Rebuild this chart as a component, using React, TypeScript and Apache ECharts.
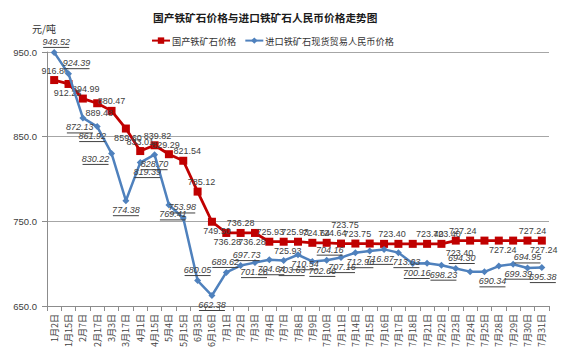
import React, { useEffect, useRef } from 'react';
import * as echarts from 'echarts';

const categories = [
  '1月2日', '1月15日', '2月7日', '2月17日', '3月3日', '3月17日', '4月1日', '4月15日',
  '5月4日', '5月15日', '6月3日', '6月16日', '7月1日', '7月2日', '7月3日', '7月4日',
  '7月7日', '7月8日', '7月9日', '7月10日', '7月11日', '7月14日', '7月15日', '7月16日',
  '7月17日', '7月18日', '7月21日', '7月22日', '7月23日', '7月24日', '7月25日', '7月28日',
  '7月29日', '7月30日', '7月31日',
];

const domesticPrice = [
  916.86, 912.25, 894.99, 889.48, 880.47, 859.6, 833.01, 839.82,
  829.29, 821.54, 785.12, 749.5, 736.28, 736.28, 736.28, 725.93,
  725.93, 725.93, 724.64, 724.64, 723.75, 723.75, 723.75, 723.4,
  723.4, 723.4, 723.4, 723.4, 727.24, 727.24, 727.24, 727.24,
  727.24, 727.24, 727.24,
];

const importPrice = [
  949.52, 924.39, 872.13, 861.92, 830.22, 774.38, 819.39, 828.7,
  769.41, 753.98, 680.05, 662.38, 689.62, 697.73, 701.26, 704.64,
  703.63, 710.54, 702.66, 704.16, 707.16, 712.96, 714.9, 716.87,
  713.03, 700.16, 700.5, 698.23, 694.3, 690.6, 690.34, 697.2,
  699.39, 694.95, 695.38,
];

const yMin = 650;
const yMax = 950;
const yStep = 100;

const seriesNames = ['国产铁矿石价格', '进口铁矿石现货贸易人民币价格'];

// label placement styles (t = above, b = below, n = not visible in the reference), with x / y nudges
type Place = [string, number, number];
const redLabelPlace: Place[] = [
  ['t', 1, 0], ['b', -1, 0], ['t', 3, 0], ['b', 2, 0], ['t', 0, 0], ['b', 2, 0], ['t', 0, 0], ['t', 3, 0],
  ['t', -3, 0], ['t', 4, 0], ['t', 4, 0], ['b', 5, 0], ['b', 1, 0], ['t', 0, 0], ['b', -3, 0], ['t', 1, 0],
  ['b', 4, 0], ['t', -3, 0], ['t', 4, 0], ['t', 6, 0], ['t', 4, -9], ['t', 2, 0], ['n', 0, 0], ['t', 8, 0],
  ['n', 0, 0], ['t', 17, 0], ['t', 20, 0], ['b', 18, 0], ['t', 7, 0], ['n', 0, 0], ['n', 0, 0], ['b', 4, 0],
  ['n', 0, 0], ['t', 5, 0], ['b', 2, 0],
];
const blueLabelPlace: Place[] = [
  ['t', 2, 0], ['t', 8, 0], ['b', -3, 0], ['b', -5, 0], ['b', -16, -4], ['b', 0, 0], ['b', 7, 0], ['b', 0, 0],
  ['b', 4, 0], ['t', -1, 0], ['t', 0, 0], ['b', 0, 0], ['t', -1, 0], ['t', 6, 0], ['b', -1, 0], ['b', 2, 0],
  ['b', 8, 0], ['b', 7, 0], ['b', 10, 0], ['t', 3, 0], ['b', 1, 0], ['b', 5, 0], ['n', 0, 0], ['b', -4, 0],
  ['b', 8, 0], ['b', 4, 0], ['n', 0, 0], ['b', 2, 0], ['t', 6, 0], ['n', 0, 0], ['b', 8, 0], ['n', 0, 0],
  ['b', 5, 0], ['t', 0, 0], ['b', 1, 0],
];

const numFont = "'Liberation Sans', Arial, sans-serif";
const cjkFont = "'Noto Sans CJK SC', sans-serif";

function placeLabel(p: Place) {
  if (p[0] === 'n') return { show: false };
  return {
    show: true,
    position: p[0] === 't' ? 'top' : 'bottom',
    distance: 1,
    offset: [p[1], p[2]],
  };
}

export default function App() {
  const ref = useRef<HTMLDivElement>(null);
  useEffect(() => {
    document.body.style.margin = '0';
    const chart = echarts.init(ref.current!, null, { renderer: 'svg' });
    chart.setOption({
      animation: false,
      backgroundColor: '#ffffff',
      title: {
        text: '国产铁矿石价格与进口铁矿石人民币价格走势图',
        left: 148,
        top: 7,
        textStyle: { fontSize: 10.7, fontWeight: 'bold', color: '#1a1a1a', fontFamily: cjkFont },
      },
      legend: {
        data: seriesNames,
        left: 146,
        top: 31,
        itemWidth: 18,
        itemHeight: 8,
        itemGap: 8,
        textStyle: { fontSize: 9.2, color: '#333', fontFamily: cjkFont, padding: [0, 0, 0, -3] },
      },
      graphic: [
        {
          type: 'text',
          left: 32,
          top: 23,
          style: { text: '元/吨', fill: '#333', font: `10px ${cjkFont}` },
        },
      ],
      grid: { left: 47, right: 15, top: 52, bottom: 54 },
      xAxis: {
        type: 'category',
        data: categories,
        boundaryGap: true,
        axisLine: { lineStyle: { color: '#8c8c8c' } },
        axisTick: { show: true, interval: 0, lineStyle: { color: '#8c8c8c' } },
        axisLabel: {
          interval: 0,
          rotate: 90,
          fontSize: 9,
          color: '#404040',
          fontFamily: cjkFont,
        },
      },
      yAxis: {
        type: 'value',
        min: yMin,
        max: yMax,
        interval: yStep,
        axisLine: { show: true, lineStyle: { color: '#8c8c8c' } },
        axisTick: { show: true, lineStyle: { color: '#8c8c8c' } },
        splitLine: { lineStyle: { color: '#a6a6a6' } },
        axisLabel: {
          formatter: (v: number) => v.toFixed(1),
          fontSize: 9.5,
          color: '#404040',
          fontFamily: numFont,
          margin: 10,
        },
      },
      series: [
        {
          name: seriesNames[0],
          type: 'line',
          data: domesticPrice.map((v, i) => ({ value: v, label: placeLabel(redLabelPlace[i]) })),
          color: '#c00000',
          symbol: 'rect',
          symbolSize: 8,
          lineStyle: { width: 2.8, color: '#c00000' },
          itemStyle: { color: '#c00000' },
          label: {
            show: true,
            fontSize: 9,
            color: '#404040',
            fontFamily: numFont,
            formatter: (p: any) => Number(p.value).toFixed(2),
          },
          z: 2,
        },
        {
          name: seriesNames[1],
          type: 'line',
          data: importPrice.map((v, i) => ({ value: v, label: placeLabel(blueLabelPlace[i]) })),
          color: '#4f81bd',
          symbol: 'diamond',
          symbolSize: 7,
          lineStyle: { width: 2.5, color: '#4f81bd' },
          itemStyle: { color: '#4f81bd' },
          label: {
            show: true,
            formatter: (p: any) => `{u|${Number(p.value).toFixed(2)}}\n{l|}`,
            rich: {
              u: {
                fontSize: 9,
                fontStyle: 'italic',
                color: '#404040',
                fontFamily: numFont,
                lineHeight: 10,
              },
              l: {
                width: 26,
                height: 1,
                lineHeight: 1,
                backgroundColor: '#404040',
              },
            },
          },
          z: 3,
        },
      ],
    });
    return () => chart.dispose();
  }, []);
  return <div ref={ref} style={{ width: 564, height: 360 }} />;
}
